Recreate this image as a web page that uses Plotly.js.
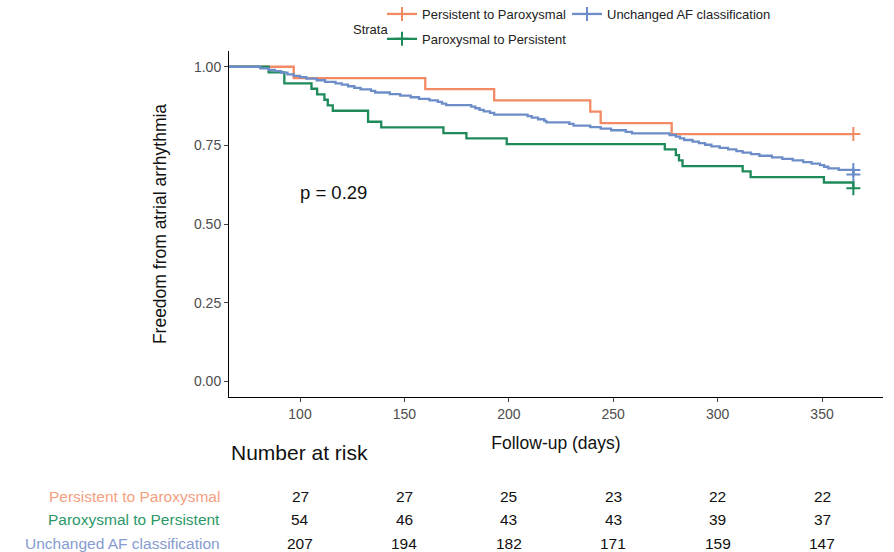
<!DOCTYPE html>
<html>
<head>
<meta charset="utf-8">
<script src="https://cdn.plot.ly/plotly-3.0.1.min.js"></script>
<style>html,body{margin:0;padding:0;background:#fff;}#chart{width:894px;height:552px;}</style>
</head>
<body>
<div id="chart"></div>
<script>
// ---------- data ----------
const seriesNames = ["Persistent to Paroxysmal", "Paroxysmal to Persistent", "Unchanged AF classification"];

const ppTime = [0, 97, 160, 193, 239, 244, 278, 365];
const ppSurv = [1, 0.964, 0.929, 0.893, 0.857, 0.821, 0.786, 0.786];
const ppCensTime = [365];
const ppCensSurv = [0.786];

const paTime = [0, 85, 92.5, 105.5, 108.2, 111.7, 113.3, 115.7, 132.6, 138.9, 168.7, 179.7, 199, 274.7, 280, 281.5, 283.2, 312, 315.8, 350.9, 365];
const paSurv = [1, 0.982, 0.947, 0.930, 0.912, 0.895, 0.877, 0.860, 0.825, 0.807, 0.789, 0.772, 0.754, 0.737, 0.719, 0.702, 0.684, 0.667, 0.649, 0.632, 0.614];
const paCensTime = [365];
const paCensSurv = [0.614];

const unTime = [0, 81, 85, 88, 91, 94, 97, 100, 103, 108, 112, 117, 120, 123, 126, 129, 134, 136, 143, 148, 153, 157, 162, 166, 168, 170, 182, 184, 186, 188, 191, 193, 209, 211, 214, 217, 218, 229, 231, 239, 244, 249, 256, 259, 277, 280, 282, 284, 288, 291, 294, 297, 301, 305, 309, 312, 316, 320, 326, 331, 336, 341, 345, 349, 351, 353, 358, 365];
const unSurv = [1, 0.995, 0.990, 0.986, 0.981, 0.976, 0.971, 0.967, 0.962, 0.957, 0.952, 0.947, 0.943, 0.938, 0.933, 0.928, 0.923, 0.918, 0.913, 0.908, 0.903, 0.898, 0.893, 0.888, 0.883, 0.878, 0.873, 0.868, 0.863, 0.858, 0.853, 0.848, 0.843, 0.838, 0.833, 0.828, 0.823, 0.818, 0.813, 0.808, 0.803, 0.798, 0.793, 0.788, 0.783, 0.778, 0.772, 0.767, 0.762, 0.757, 0.752, 0.747, 0.742, 0.737, 0.732, 0.727, 0.722, 0.717, 0.712, 0.707, 0.702, 0.697, 0.692, 0.687, 0.682, 0.677, 0.672, 0.657];
const unCensTime = [365, 365];
const unCensSurv = [0.672, 0.657];

const xTicks = [100, 150, 200, 250, 300, 350];
const yTicks = [0, 0.25, 0.5, 0.75, 1];

const riskTimes = [100, 150, 200, 250, 300, 350];
const riskPP = [27, 27, 25, 23, 22, 22];
const riskPA = [54, 46, 43, 43, 39, 37];
const riskUN = [207, 194, 182, 171, 159, 147];

const pValueText = "p = 0.29";

// ---------- styles ----------
const lineColors = ["#F28A64", "#1E8A5A", "#6C8DC8"];
const textColors = ["#F4A07F", "#2C9868", "#869BCF"];
const FONT = "Liberation Sans, Arial, Helvetica, sans-serif";

function stepTrace(t, s, i) {
  return {x: t, y: s, type: "scatter", mode: "lines", line: {shape: "hv", color: lineColors[i], width: 2.3},
          showlegend: false, legendgroup: "g" + i, hoverinfo: "skip", cliponaxis: true};
}
function censTrace(t, s, i, leg) {
  return {x: t, y: s, type: "scatter", mode: "lines+markers", name: seriesNames[i],
          line: {color: lineColors[i], width: 2.3},
          marker: {symbol: "cross-thin", size: 10, color: lineColors[i], line: {color: lineColors[i], width: 2}},
          legendgroup: "g" + i, legend: leg, cliponaxis: false};
}

const traces = [
  stepTrace(ppTime, ppSurv, 0), stepTrace(paTime, paSurv, 1), stepTrace(unTime, unSurv, 2),
  censTrace(ppCensTime, ppCensSurv, 0, "legend"),
  censTrace(paCensTime, paCensSurv, 1, "legend"),
  censTrace(unCensTime, unCensSurv, 2, "legend2")
];

// ---------- layout ----------
const M = {l: 229, r: 11, t: 51, b: 155, autoexpand: false};
const plotW = 894 - M.l - M.r, plotH = 552 - M.t - M.b;
const px = v => (v - M.l) / plotW;          // page x -> paper x
const py = v => (552 - M.b - v) / plotH;    // page y -> paper y

const annotations = [
  {text: "Strata", xref: "paper", yref: "paper", x: px(351), y: py(29), xanchor: "left", yanchor: "middle",
   showarrow: false, font: {family: FONT, size: 13, color: "#222"}},
  {text: pValueText, xref: "x", yref: "y", x: 116, y: 0.6, xanchor: "center", yanchor: "middle",
   showarrow: false, font: {family: FONT, size: 18.5, color: "#111"}},
  {text: "Number at risk", xref: "paper", yref: "paper", x: 0, y: py(452), xanchor: "left", yanchor: "middle",
   showarrow: false, font: {family: FONT, size: 21, color: "#111"}}
];
const riskRows = [riskPP, riskPA, riskUN];
const rowY = [496.5, 519.5, 543];
riskRows.forEach((row, i) => {
  annotations.push({text: seriesNames[i], xref: "paper", yref: "paper", x: px(222), y: py(rowY[i]),
    xanchor: "right", yanchor: "middle", showarrow: false, font: {family: FONT, size: 15.5, color: textColors[i]}});
  row.forEach((n, j) => {
    annotations.push({text: String(n), xref: "x", yref: "paper", x: riskTimes[j], y: py(rowY[i]),
      xanchor: "center", yanchor: "middle", showarrow: false, font: {family: FONT, size: 15.5, color: "#111"}});
  });
});

const axisCommon = {showline: true, linecolor: "#000", linewidth: 1, ticks: "outside", ticklen: 4, tickwidth: 1,
  tickcolor: "#444", showgrid: false, zeroline: false, automargin: false,
  tickfont: {family: FONT, size: 14, color: "#4D4D4D"}};

const layout = {
  width: 894, height: 552, margin: M,
  paper_bgcolor: "#fff", plot_bgcolor: "#fff",
  font: {family: FONT},
  xaxis: Object.assign({}, axisCommon, {range: [66, 379.2], tickvals: xTicks,
    title: {text: "Follow-up (days)", standoff: 15, font: {family: FONT, size: 17.5, color: "#111"}}}),
  yaxis: Object.assign({}, axisCommon, {range: [-0.05, 1.05], tickvals: yTicks, tickformat: ".2f",
    title: {text: "Freedom from atrial arrhythmia", standoff: 22, font: {family: FONT, size: 17.5, color: "#111"}}}),
  legend: {orientation: "v", x: px(382), y: py(-1), xanchor: "left", yanchor: "top", xref: "paper", yref: "paper",
    bgcolor: "rgba(0,0,0,0)", font: {family: FONT, size: 13, color: "#222"}, traceorder: "grouped", tracegroupgap: 5,
    itemwidth: 30},
  legend2: {orientation: "v", x: px(567), y: py(-1), xanchor: "left", yanchor: "top", xref: "paper", yref: "paper",
    bgcolor: "rgba(0,0,0,0)", font: {family: FONT, size: 13, color: "#222"}, itemwidth: 30},
  annotations: annotations,
  showlegend: true
};

Plotly.newPlot("chart", traces, layout, {displayModeBar: false, staticPlot: true});
</script>
</body>
</html>
